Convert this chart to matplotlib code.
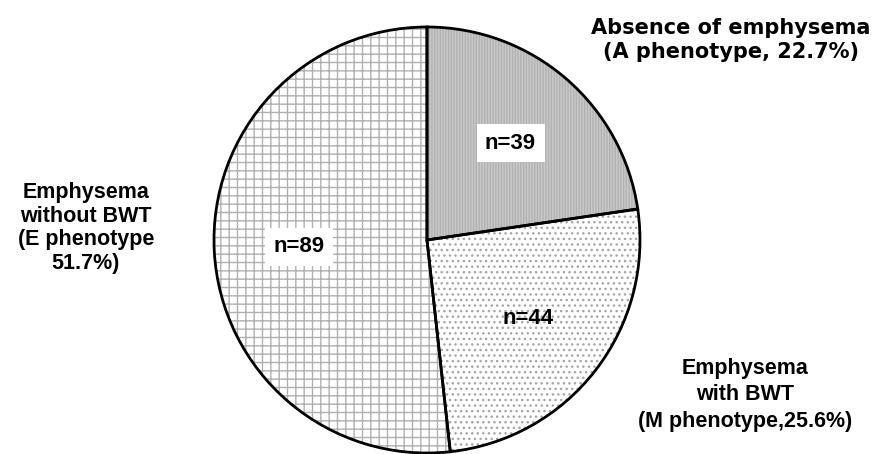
import matplotlib.pyplot as plt

# phenotype groups, clockwise from 12 o'clock
counts = [39, 44, 89]
n_labels = ['n=39', 'n=44', 'n=89']
group_labels = ['Absence of emphysema\n(A phenotype, 22.7%)',
                'Emphysema\nwith BWT\n(M phenotype,25.6%)',
                'Emphysema\nwithout BWT\n(E phenotype\n51.7%)']

fills = ['#c9c9c9', 'white', 'white']
hatches = ['||||||', '...', '++']
hatch_cols = ['#b2b2b2', '#a6a6a6', '#b0b0b0']
boxed = [True, False, True]

W, H = 875, 454
plt.rcParams['hatch.linewidth'] = 1.0

fig = plt.figure(figsize=(W / 100, H / 100), dpi=100)
ax = fig.add_axes([0, 0, 1, 1])

cx, cy, R = 427, H - 240, 213

# fill + hatch pass
wedges, _, pcts = ax.pie(counts, startangle=90, counterclock=False, center=(cx, cy),
                         radius=R, colors=fills, autopct='%1.1f', pctdistance=0.6,
                         wedgeprops=dict(linewidth=0), frame=True)
for w, h, c in zip(wedges, hatches, hatch_cols):
    w.set_hatch(h)
    w.set_edgecolor(c)

# outline pass
ax.pie(counts, startangle=90, counterclock=False, center=(cx, cy), radius=R,
       wedgeprops=dict(fill=False, edgecolor='black', linewidth=2.0), frame=True)

ax.set_xlim(0, W)
ax.set_ylim(0, H)
ax.set_aspect('equal')
ax.axis('off')

for t, lab, b in zip(pcts, n_labels, boxed):
    t.set_text(lab)
    t.set_fontsize(16)
    t.set_fontweight('bold')
    t.set_family('Liberation Sans')
    t.set_ha('center')
    t.set_va('center')
    if b:
        t.set_bbox(dict(facecolor='white', edgecolor='none', pad=6))

ax.text(731, H - 40, group_labels[0], ha='center', va='center', fontsize=15,
        fontweight='bold', family='DejaVu Sans', linespacing=1.3)
ax.text(745, H - 395, group_labels[1], ha='center', va='center', fontsize=15.5,
        fontweight='bold', family='Liberation Sans', linespacing=1.35)
ax.text(86, H - 228, group_labels[2], ha='center', va='center', fontsize=15.5,
        fontweight='bold', family='Liberation Sans', linespacing=1.15)

fig.savefig('out.png', dpi=100)
